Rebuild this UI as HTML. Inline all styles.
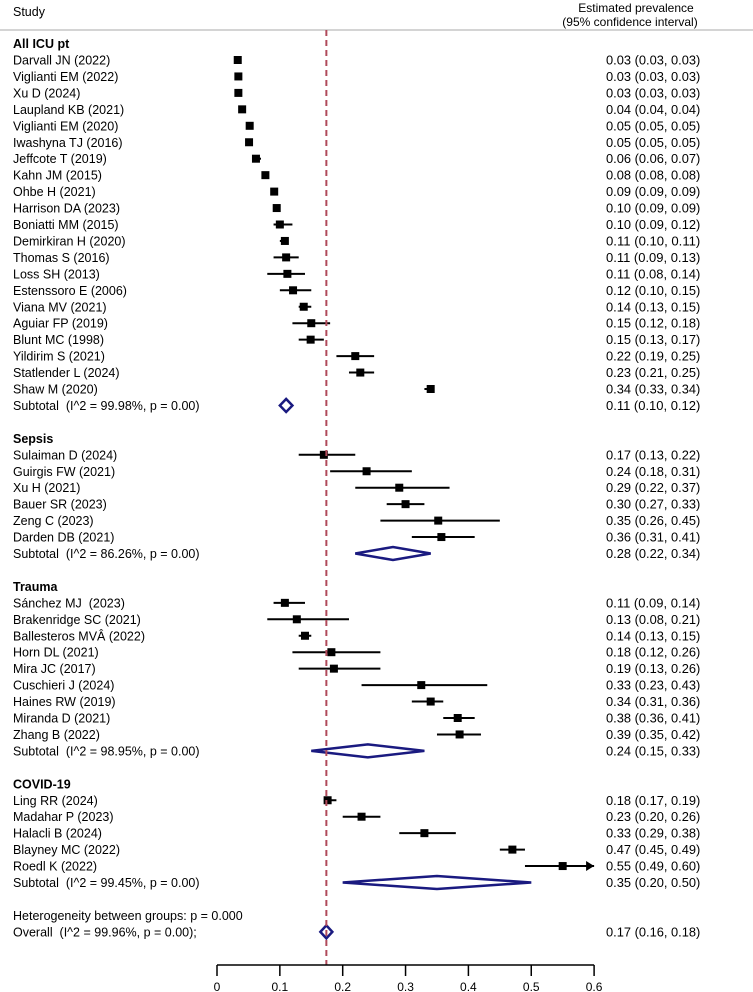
<!DOCTYPE html>
<html><head><meta charset="utf-8">
<style>
html,body{margin:0;padding:0;background:#fff;}
svg{display:block;font-family:"Liberation Sans",Arial,sans-serif;}
svg text{white-space:pre;}
</style></head>
<body>
<svg id="plot" width="753" height="992" viewBox="0 0 753 992" xmlns="http://www.w3.org/2000/svg">
<text x="13" y="16" font-size="12.5">Study</text>
<text x="636" y="12" font-size="12" text-anchor="middle">Estimated prevalence</text>
<text x="630" y="26" font-size="12" text-anchor="middle">(95% confidence interval)</text>
<line x1="0" y1="30" x2="753" y2="30" stroke="#aaa" stroke-width="1"/>
<g id="marks"></g>
</svg>
<script>
const groups = ["All ICU pt","Sepsis","Trauma","COVID-19"];
const studies = [
["Darvall JN (2022)","Viglianti EM (2022)","Xu D (2024)","Laupland KB (2021)","Viglianti EM (2020)","Iwashyna TJ (2016)","Jeffcote T (2019)","Kahn JM (2015)","Ohbe H (2021)","Harrison DA (2023)","Boniatti MM (2015)","Demirkiran H (2020)","Thomas S (2016)","Loss SH (2013)","Estenssoro E (2006)","Viana MV (2021)","Aguiar FP (2019)","Blunt MC (1998)","Yildirim S (2021)","Statlender L (2024)","Shaw M (2020)"],
["Sulaiman D (2024)","Guirgis FW (2021)","Xu H (2021)","Bauer SR (2023)","Zeng C (2023)","Darden DB (2021)"],
["Sánchez MJ  (2023)","Brakenridge SC (2021)","Ballesteros MVÂ (2022)","Horn DL (2021)","Mira JC (2017)","Cuschieri J (2024)","Haines RW (2019)","Miranda D (2021)","Zhang B (2022)"],
["Ling RR (2024)","Madahar P (2023)","Halacli B (2024)","Blayney MC (2022)","Roedl K (2022)"]];
const est = [
[0.033,0.034,0.034,0.04,0.052,0.051,0.062,0.077,0.091,0.095,0.10,0.108,0.11,0.112,0.121,0.138,0.15,0.149,0.22,0.228,0.34],
[0.17,0.238,0.29,0.30,0.352,0.357],
[0.108,0.127,0.14,0.182,0.186,0.325,0.34,0.383,0.386],
[0.176,0.23,0.33,0.47,0.55]];
const lo = [
[0.03,0.03,0.03,0.04,0.05,0.05,0.06,0.08,0.09,0.09,0.09,0.10,0.09,0.08,0.10,0.13,0.12,0.13,0.19,0.21,0.33],
[0.13,0.18,0.22,0.27,0.26,0.31],
[0.09,0.08,0.13,0.12,0.13,0.23,0.31,0.36,0.35],
[0.17,0.20,0.29,0.45,0.49]];
const hi = [
[0.03,0.03,0.03,0.04,0.05,0.05,0.07,0.08,0.09,0.09,0.12,0.11,0.13,0.14,0.15,0.15,0.18,0.17,0.25,0.25,0.34],
[0.22,0.31,0.37,0.33,0.45,0.41],
[0.14,0.21,0.15,0.26,0.26,0.43,0.36,0.41,0.42],
[0.19,0.26,0.38,0.49,0.60]];
const subEst = [0.11,0.28,0.24,0.35];
const subLo = [0.10,0.22,0.15,0.20];
const subHi = [0.12,0.34,0.33,0.50];
const subLabel = ["Subtotal  (I^2 = 99.98%, p = 0.00)","Subtotal  (I^2 = 86.26%, p = 0.00)","Subtotal  (I^2 = 98.95%, p = 0.00)","Subtotal  (I^2 = 99.45%, p = 0.00)"];
const overallEst = 0.174, overallLo = 0.16, overallHi = 0.18;
const tickVals = [0,0.1,0.2,0.3,0.4,0.5,0.6];
const tickLabels = ["0","0.1","0.2","0.3","0.4","0.5","0.6"];

const NS="http://www.w3.org/2000/svg";
const g=document.getElementById('marks');
const X0=217, XS=628.5, Y0=60, DY=16.45, XMAX=0.6;
const xs=v=>X0+v*XS;
const ys=k=>Y0+k*DY;
const fmt=v=>v.toFixed(2);
function el(tag,attrs,parent){const e=document.createElementNS(NS,tag);for(const k in attrs)e.setAttribute(k,attrs[k]);(parent||g).appendChild(e);return e;}
function label(x,y,txt,bold){const t=el('text',{x:x,y:y+4.5,'font-size':12.5,'font-weight':bold?'bold':'normal'});t.textContent=txt;return t;}
function num(y,txt){const t=el('text',{x:606,y:y+4.5,'font-size':12.5,textLength:(txt.length*5.55).toFixed(1),lengthAdjust:'spacingAndGlyphs'});t.textContent=txt;return t;}
function diamond(c,l,h,y){return el('polygon',{points:`${xs(l)},${y} ${xs(c)},${y-6.5} ${xs(h)},${y} ${xs(c)},${y+6.5}`,fill:'none',stroke:'#1a1a80','stroke-width':2.5});}

let k=-1;
groups.forEach((gname,gi)=>{
  const h=label(13,ys(k),gname,true);
  
  
  k++;
  studies[gi].forEach((s,i)=>{
    const y=ys(k);
    const t=label(13,y,s,false);
    
    
    const hiC=Math.min(hi[gi][i],XMAX);
    if(hi[gi][i]-lo[gi][i]>0.005){
      const ln=el('line',{x1:xs(lo[gi][i]),y1:y,x2:xs(hiC),y2:y,stroke:'#000','stroke-width':2});
      
      
    }
    if(hi[gi][i]>=XMAX){
      const ar=el('polygon',{points:`${xs(XMAX)},${y} ${xs(XMAX)-8},${y-5} ${xs(XMAX)-8},${y+5}`,fill:'#000'});
      
      
    }
    const sq=el('rect',{x:xs(est[gi][i])-4,y:y-4,width:8,height:8,fill:'#000'});
    
    
    const n=num(y,fmt(est[gi][i])+' ('+fmt(lo[gi][i])+', '+fmt(hi[gi][i])+')');
    
    
    k++;
  });
  const y=ys(k);
  const st=label(13,y,subLabel[gi],false);
  
  
  const d=diamond(subEst[gi],subLo[gi],subHi[gi],y);
  
  
  const sn=num(y,fmt(subEst[gi])+' ('+fmt(subLo[gi])+', '+fmt(subHi[gi])+')');
  
  
  k+=2;
});
const het=label(13,ys(k),'Heterogeneity between groups: p = 0.000',false);


k++;
const oy=ys(k);
const ol=label(13,oy,'Overall  (I^2 = 99.96%, p = 0.00);',false);


const od=el('polygon',{points:`${xs(overallEst)-6},${oy} ${xs(overallEst)},${oy-6.5} ${xs(overallEst)+6},${oy} ${xs(overallEst)},${oy+6.5}`,fill:'none',stroke:'#1a1a80','stroke-width':2.5});


const on=num(oy,fmt(0.17)+' ('+fmt(overallLo)+', '+fmt(overallHi)+')');



const ref=el('line',{x1:xs(overallEst),y1:30,x2:xs(overallEst),y2:965,stroke:'#b04a5a','stroke-width':2,'stroke-dasharray':'6 4'});



const ax=el('line',{x1:xs(0),y1:965,x2:xs(XMAX),y2:965,stroke:'#000','stroke-width':1.5});


tickVals.forEach((v,i)=>{
  const tk=el('line',{x1:xs(v),y1:965,x2:xs(v),y2:976,stroke:'#000','stroke-width':1.5});
  
  
  const tl=el('text',{x:xs(v),y:991,'font-size':12,'text-anchor':'middle'});
  tl.textContent=tickLabels[i];
  
  
});
</script>
</body></html>
